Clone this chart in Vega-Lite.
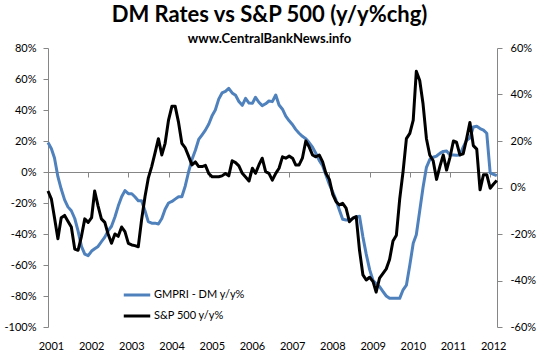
{
  "$schema": "https://vega.github.io/schema/vega-lite/v6.json",
  "width": 449,
  "height": 279,
  "autosize": {"type": "none"},
  "padding": {"left": 48, "top": 48, "right": 42, "bottom": 30},
  "background": "white",
  "title": {
    "text": "DM Rates vs S&P 500 (y/y%chg)",
    "subtitle": "www.CentralBankNews.info",
    "font": "Lato",
    "fontSize": 22,
    "fontWeight": "bold",
    "color": "#000000",
    "subtitleFont": "Lato",
    "subtitleFontSize": 13,
    "subtitleFontWeight": "bold",
    "subtitleColor": "#000000",
    "subtitlePadding": 6,
    "anchor": "middle",
    "dx": -3,
    "offset": -5
  },
  "data": {
    "values": [
      {"d": "2001-01-01", "gm": 19, "sp": -1.5},
      {"d": "2001-02-01", "gm": 15, "sp": -5},
      {"d": "2001-03-01", "gm": 9, "sp": -13},
      {"d": "2001-04-01", "gm": -3, "sp": -22},
      {"d": "2001-05-01", "gm": -11, "sp": -13},
      {"d": "2001-06-01", "gm": -18, "sp": -12},
      {"d": "2001-07-01", "gm": -22.5, "sp": -14.5},
      {"d": "2001-08-01", "gm": -25, "sp": -17},
      {"d": "2001-09-01", "gm": -30, "sp": -26.5},
      {"d": "2001-10-01", "gm": -38, "sp": -27},
      {"d": "2001-11-01", "gm": -48, "sp": -21},
      {"d": "2001-12-01", "gm": -53, "sp": -13.5},
      {"d": "2002-01-01", "gm": -54, "sp": -15},
      {"d": "2002-02-01", "gm": -51, "sp": -13},
      {"d": "2002-03-01", "gm": -49.5, "sp": -1.5},
      {"d": "2002-04-01", "gm": -48, "sp": -8},
      {"d": "2002-05-01", "gm": -45, "sp": -13.5},
      {"d": "2002-06-01", "gm": -42, "sp": -15},
      {"d": "2002-07-01", "gm": -38, "sp": -20},
      {"d": "2002-08-01", "gm": -35, "sp": -24},
      {"d": "2002-09-01", "gm": -29, "sp": -20},
      {"d": "2002-10-01", "gm": -22, "sp": -21},
      {"d": "2002-11-01", "gm": -16, "sp": -17},
      {"d": "2002-12-01", "gm": -12, "sp": -19},
      {"d": "2003-01-01", "gm": -14, "sp": -24},
      {"d": "2003-02-01", "gm": -14, "sp": -24.7},
      {"d": "2003-03-01", "gm": -16, "sp": -25},
      {"d": "2003-04-01", "gm": -18.5, "sp": -25.5},
      {"d": "2003-05-01", "gm": -18.5, "sp": -14},
      {"d": "2003-06-01", "gm": -25, "sp": -4},
      {"d": "2003-07-01", "gm": -32, "sp": 4},
      {"d": "2003-08-01", "gm": -33, "sp": 9},
      {"d": "2003-09-01", "gm": -33, "sp": 15},
      {"d": "2003-10-01", "gm": -33.5, "sp": 21},
      {"d": "2003-11-01", "gm": -30, "sp": 14},
      {"d": "2003-12-01", "gm": -24, "sp": 19},
      {"d": "2004-01-01", "gm": -20, "sp": 29},
      {"d": "2004-02-01", "gm": -19, "sp": 35},
      {"d": "2004-03-01", "gm": -17.5, "sp": 35},
      {"d": "2004-04-01", "gm": -16, "sp": 28},
      {"d": "2004-05-01", "gm": -16, "sp": 19},
      {"d": "2004-06-01", "gm": -9, "sp": 17},
      {"d": "2004-07-01", "gm": 0, "sp": 13.5},
      {"d": "2004-08-01", "gm": 8, "sp": 9.7},
      {"d": "2004-09-01", "gm": 14, "sp": 11},
      {"d": "2004-10-01", "gm": 21, "sp": 9},
      {"d": "2004-11-01", "gm": 24, "sp": 9},
      {"d": "2004-12-01", "gm": 27, "sp": 9.5},
      {"d": "2005-01-01", "gm": 31, "sp": 6},
      {"d": "2005-02-01", "gm": 36.5, "sp": 4.6},
      {"d": "2005-03-01", "gm": 40, "sp": 4.6},
      {"d": "2005-04-01", "gm": 47, "sp": 4.6},
      {"d": "2005-05-01", "gm": 51, "sp": 5},
      {"d": "2005-06-01", "gm": 52, "sp": 6},
      {"d": "2005-07-01", "gm": 54, "sp": 5},
      {"d": "2005-08-01", "gm": 51, "sp": 11.5},
      {"d": "2005-09-01", "gm": 49.5, "sp": 10.7},
      {"d": "2005-10-01", "gm": 45.5, "sp": 9.3},
      {"d": "2005-11-01", "gm": 43, "sp": 6.1},
      {"d": "2005-12-01", "gm": 47.5, "sp": 4.5},
      {"d": "2006-01-01", "gm": 44.5, "sp": 2.8},
      {"d": "2006-02-01", "gm": 44.3, "sp": 8.3},
      {"d": "2006-03-01", "gm": 48.2, "sp": 6.1},
      {"d": "2006-04-01", "gm": 45, "sp": 9.7},
      {"d": "2006-05-01", "gm": 42.8, "sp": 12.6},
      {"d": "2006-06-01", "gm": 44, "sp": 6.8},
      {"d": "2006-07-01", "gm": 45.8, "sp": 6.1},
      {"d": "2006-08-01", "gm": 45.4, "sp": 3.2},
      {"d": "2006-09-01", "gm": 49.7, "sp": 6.1},
      {"d": "2006-10-01", "gm": 43.2, "sp": 8.3},
      {"d": "2006-11-01", "gm": 40.5, "sp": 13.2},
      {"d": "2006-12-01", "gm": 36, "sp": 12.6},
      {"d": "2007-01-01", "gm": 33, "sp": 13.5},
      {"d": "2007-02-01", "gm": 30.5, "sp": 12.6},
      {"d": "2007-03-01", "gm": 27.5, "sp": 9.7},
      {"d": "2007-04-01", "gm": 25, "sp": 9.7},
      {"d": "2007-05-01", "gm": 23, "sp": 12.6},
      {"d": "2007-06-01", "gm": 21.5, "sp": 20},
      {"d": "2007-07-01", "gm": 19, "sp": 17.5},
      {"d": "2007-08-01", "gm": 16, "sp": 14},
      {"d": "2007-09-01", "gm": 12, "sp": 13.2},
      {"d": "2007-10-01", "gm": 7.5, "sp": 14},
      {"d": "2007-11-01", "gm": 4, "sp": 11},
      {"d": "2007-12-01", "gm": -2, "sp": 6.1},
      {"d": "2008-01-01", "gm": -8, "sp": 3.5},
      {"d": "2008-02-01", "gm": -13, "sp": -3},
      {"d": "2008-03-01", "gm": -18, "sp": -6},
      {"d": "2008-04-01", "gm": -24.5, "sp": -7.5},
      {"d": "2008-05-01", "gm": -30.5, "sp": -6.8},
      {"d": "2008-06-01", "gm": -31, "sp": -8.9},
      {"d": "2008-07-01", "gm": -31, "sp": -14.7},
      {"d": "2008-08-01", "gm": -30, "sp": -13.2},
      {"d": "2008-09-01", "gm": -29, "sp": -12.5},
      {"d": "2008-10-01", "gm": -28.5, "sp": -27},
      {"d": "2008-11-01", "gm": -42, "sp": -37.6},
      {"d": "2008-12-01", "gm": -53, "sp": -39.8},
      {"d": "2009-01-01", "gm": -63, "sp": -38.6},
      {"d": "2009-02-01", "gm": -70, "sp": -40.5},
      {"d": "2009-03-01", "gm": -72, "sp": -45},
      {"d": "2009-04-01", "gm": -74, "sp": -39},
      {"d": "2009-05-01", "gm": -77, "sp": -37},
      {"d": "2009-06-01", "gm": -80, "sp": -35},
      {"d": "2009-07-01", "gm": -81.5, "sp": -31},
      {"d": "2009-08-01", "gm": -81.5, "sp": -23},
      {"d": "2009-09-01", "gm": -81.5, "sp": -20.5},
      {"d": "2009-10-01", "gm": -81.5, "sp": -5},
      {"d": "2009-11-01", "gm": -76, "sp": 7},
      {"d": "2009-12-01", "gm": -73, "sp": 21},
      {"d": "2010-01-01", "gm": -60, "sp": 23.3},
      {"d": "2010-02-01", "gm": -46, "sp": 29},
      {"d": "2010-03-01", "gm": -40.5, "sp": 50},
      {"d": "2010-04-01", "gm": -25, "sp": 46},
      {"d": "2010-05-01", "gm": -10, "sp": 36},
      {"d": "2010-06-01", "gm": 3, "sp": 21},
      {"d": "2010-07-01", "gm": 8, "sp": 14},
      {"d": "2010-08-01", "gm": 9.5, "sp": 11.5},
      {"d": "2010-09-01", "gm": 10.3, "sp": 3.5},
      {"d": "2010-10-01", "gm": 12, "sp": 9},
      {"d": "2010-11-01", "gm": 13.3, "sp": 14},
      {"d": "2010-12-01", "gm": 13.5, "sp": 7.5},
      {"d": "2011-01-01", "gm": 11, "sp": 13},
      {"d": "2011-02-01", "gm": 11, "sp": 20},
      {"d": "2011-03-01", "gm": 10.8, "sp": 19.5},
      {"d": "2011-04-01", "gm": 11, "sp": 14},
      {"d": "2011-05-01", "gm": 16, "sp": 14.5},
      {"d": "2011-06-01", "gm": 20.5, "sp": 21},
      {"d": "2011-07-01", "gm": 22, "sp": 28},
      {"d": "2011-08-01", "gm": 29, "sp": 18},
      {"d": "2011-09-01", "gm": 29.5, "sp": 16.5},
      {"d": "2011-10-01", "gm": 28, "sp": -1},
      {"d": "2011-11-01", "gm": 27, "sp": 5.5},
      {"d": "2011-12-01", "gm": 25, "sp": 5.5},
      {"d": "2012-01-01", "gm": -0.5, "sp": -0.3},
      {"d": "2012-02-01", "gm": -1.5, "sp": 1.5},
      {"d": "2012-03-01", "gm": -2.4, "sp": 3}
    ]
  },
  "layer": [
    {
      "mark": {"type": "line", "strokeWidth": 3, "strokeJoin": "round"},
      "encoding": {
        "x": {
          "field": "d", "type": "temporal",
          "scale": {"type": "utc", "domain": ["2001-01-01", "2012-03-03"]},
          "axis": {
            "orient": "bottom", "title": null, "domain": false, "ticks": false, "grid": false,
            "tickCount": "year", "format": "%Y", "labelFlush": false, "labelOffset": 3,
            "labelPadding": 13, "labelFont": "Lato", "labelFontSize": 11, "labelColor": "#000000"
          }
        },
        "y": {
          "field": "gm", "type": "quantitative",
          "scale": {"domain": [-100, 80], "nice": false, "zero": false},
          "axis": {
            "orient": "left", "title": null, "grid": false,
            "values": [-100, -80, -60, -40, -20, 0, 20, 40, 60, 80],
            "labelExpr": "datum.value + '%'",
            "domainColor": "#868686", "tickColor": "#868686", "tickSize": 5,
            "labelPadding": 7, "labelFont": "Lato", "labelFontSize": 11, "labelColor": "#000000"
          }
        },
        "color": {
          "datum": "GMPRI - DM y/y%",
          "scale": {"domain": ["GMPRI - DM y/y%", "S&P 500 y/y%"], "range": ["#4F81BD", "#000000"]},
          "legend": {
            "title": null, "orient": "none", "legendX": 74, "legendY": 232,
            "symbolType": "stroke", "symbolSize": 700, "symbolStrokeWidth": 3,
            "labelFont": "Lato", "labelFontSize": 11, "labelColor": "#000000",
            "labelOffset": 2, "rowPadding": 0, "padding": 0
          }
        }
      }
    },
    {
      "mark": {"type": "line", "strokeWidth": 3, "strokeJoin": "round"},
      "encoding": {
        "x": {
          "field": "d", "type": "temporal",
          "axis": {
            "orient": "bottom", "title": null, "labels": false, "grid": false,
            "tickCount": "year", "offset": -155,
            "domainColor": "#868686", "tickColor": "#868686", "tickSize": 5
          }
        },
        "y": {
          "field": "sp", "type": "quantitative",
          "scale": {"domain": [-60, 60], "nice": false, "zero": false},
          "axis": {
            "orient": "right", "title": null, "grid": false,
            "values": [-60, -40, -20, 0, 20, 40, 60],
            "labelExpr": "datum.value + '%'",
            "domainColor": "#868686", "tickColor": "#868686", "tickSize": 5,
            "labelPadding": 8, "labelFont": "Lato", "labelFontSize": 11, "labelColor": "#000000"
          }
        },
        "color": {"datum": "S&P 500 y/y%"}
      }
    }
  ],
  "resolve": {"scale": {"y": "independent"}, "axis": {"x": "independent"}},
  "config": {"view": {"stroke": null}}
}
